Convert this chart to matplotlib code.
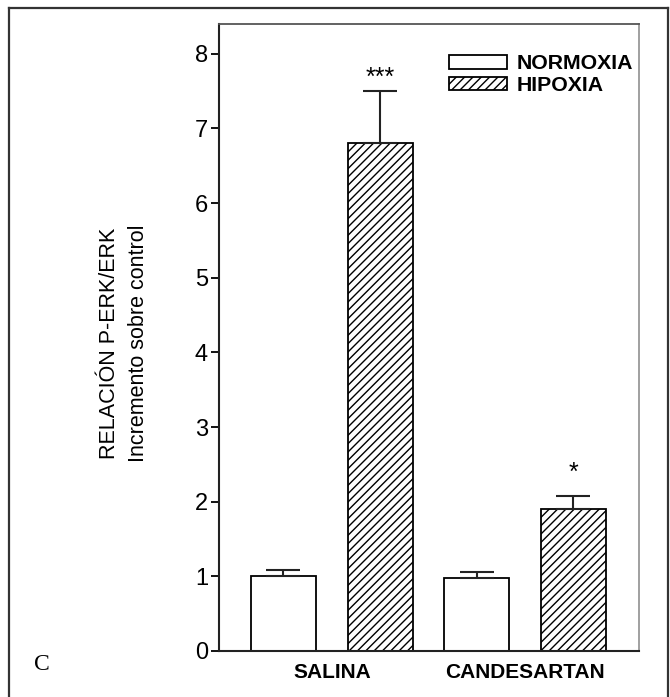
import matplotlib.pyplot as plt
from matplotlib.lines import Line2D
from matplotlib.patches import Patch
import numpy as np

# data
groups = ["SALINA", "CANDESARTAN"]
normoxia = [1.00, 0.98]
normoxia_err = [0.08, 0.08]
hipoxia = [6.80, 1.90]
hipoxia_err = [0.70, 0.17]
hipoxia_stars = ["***", "*"]
star_y = [7.68, 2.38]
yticks = [0, 1, 2, 3, 4, 5, 6, 7, 8]

plt.rcParams['font.family'] = ['Liberation Sans', 'DejaVu Sans']
plt.rcParams['hatch.linewidth'] = 1.0

fig = plt.figure(figsize=(6.70, 6.97), dpi=100)
ax = fig.add_axes([0.327, 0.066, 0.627, 0.8996])

x = np.arange(len(groups))
w = 0.336
off = 0.25

ax.bar(x - off, normoxia, w, color='white', edgecolor='black', linewidth=1.3,
       yerr=[np.zeros(len(groups)), normoxia_err], capsize=12,
       error_kw=dict(elinewidth=1.5, capthick=1.5, ecolor='#222222'))
ax.bar(x + off, hipoxia, w, color='white', edgecolor='black', linewidth=1.3,
       hatch='////',
       yerr=[np.zeros(len(groups)), hipoxia_err], capsize=12,
       error_kw=dict(elinewidth=1.5, capthick=1.5, ecolor='#222222'))

# significance marks
for xi, sy, s in zip(x, star_y, hipoxia_stars):
    ax.text(xi + off, sy, s, ha='center', va='center', fontsize=18)

ax.set_xlim(-0.583, 1.59)
ax.set_ylim(0, 8.4)
ax.set_yticks(yticks)
ax.set_yticklabels([str(t) for t in yticks], fontsize=17)
ax.set_xticks(x)
ax.set_xticklabels(groups, fontsize=15, fontweight='bold')
ax.tick_params(axis='x', length=0, pad=9)
ax.tick_params(axis='y', length=6, width=1.3, pad=2)

for side in ['left', 'bottom']:
    ax.spines[side].set_linewidth(1.5)
    ax.spines[side].set_color('#222222')
ax.spines['top'].set_color('#555555')
ax.spines['top'].set_linewidth(1.3)
ax.spines['right'].set_color('#999999')
ax.spines['right'].set_linewidth(1.3)

ax.set_ylabel("RELACIÓN P-ERK/ERK\nIncremento sobre control", fontsize=15.5,
              linespacing=1.55)
ax.yaxis.set_label_coords(-0.166, 0.491)

handles = [Patch(facecolor='white', edgecolor='black', linewidth=1.3),
           Patch(facecolor='white', edgecolor='black', linewidth=1.3, hatch='////')]
leg = ax.legend(handles, ["NORMOXIA", "HIPOXIA"], loc='upper right',
                bbox_to_anchor=(1.016, 0.972), frameon=False,
                prop=dict(size=15.3, weight='bold'), handlelength=2.75,
                handleheight=0.6, handletextpad=0.45, labelspacing=0.12,
                borderaxespad=0.2)

# panel letter
fig.text(0.062, 0.046, "C", fontsize=17, family='Liberation Serif',
         ha='center', va='center')

# outer frame (left, top, right)
frame_kw = dict(color='#333333', linewidth=1.6, transform=fig.transFigure)
fig.add_artist(Line2D([0.013, 0.013], [0.0, 0.988], **frame_kw))
fig.add_artist(Line2D([0.013, 0.997], [0.988, 0.988], **frame_kw))
fig.add_artist(Line2D([0.997, 0.997], [0.0, 0.988], **frame_kw))

fig.savefig("out.png", dpi=100)
